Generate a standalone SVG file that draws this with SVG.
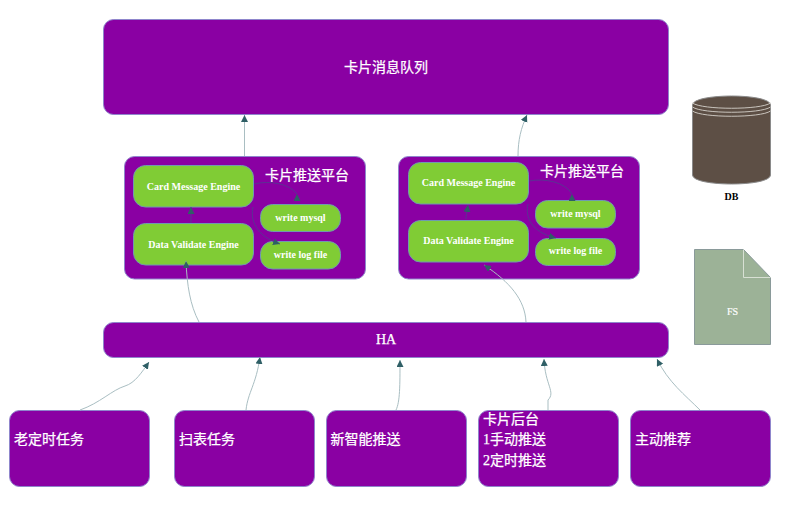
<svg xmlns="http://www.w3.org/2000/svg" width="801" height="510" viewBox="0 0 801 510">
<defs>
<marker id="arr" markerUnits="userSpaceOnUse" markerWidth="8" markerHeight="8" refX="7" refY="3.500" orient="auto"><path d="M0,0L7,3.500L0,7Z" fill="#2f5f66"/></marker>
<marker id="up" markerUnits="userSpaceOnUse" markerWidth="8" markerHeight="8" refX="7" refY="3.500" orient="270"><path d="M0,0L7,3.500L0,7Z" fill="#2f5f66"/></marker>
</defs>
<style>
.p{fill:#8a00a3;stroke:#8f86cc;stroke-width:1}
.g{fill:#80cc35;stroke:#6f9ab0;stroke-width:1}
.c{fill:none;stroke:#a9bec2;stroke-width:1;marker-end:url(#arr)}
.d{fill:none;stroke:#4f3f8f;stroke-width:.8;marker-end:url(#arr)}
.u{marker-end:url(#up)}
text{fill:#fff;font-family:"Liberation Serif","Noto Sans CJK SC",serif}
.e{font-size:10px;font-weight:bold;text-anchor:middle}
.t{font-size:14px;stroke:#fff;stroke-width:.25}
.m{text-anchor:middle}
</style>
<rect width="801" height="510" fill="#fff"/>
<g id="queue"><rect class="p" x="103.500" y="19.500" width="565" height="95" rx="10"/><text class="t m" x="386" y="72">卡片消息队列</text></g>
<g id="platform1"><rect class="p" x="124.500" y="156.500" width="241" height="122.500" rx="10"/><text class="t" x="265" y="180">卡片推送平台</text></g>
<g id="platform2"><rect class="p" x="398.500" y="156.500" width="241" height="122.500" rx="10"/><text class="t" x="540" y="176">卡片推送平台</text></g>
<g id="cme1"><rect class="g" x="133.500" y="165.500" width="120" height="41.500" rx="12"/><text class="e" x="193.500" y="189.500">Card Message Engine</text></g>
<g id="dve1"><rect class="g" x="133.500" y="223.500" width="120" height="41.500" rx="12"/><text class="e" x="193.500" y="247.500">Data Validate Engine</text></g>
<g id="mysql1"><rect class="g" x="260.500" y="204.500" width="80" height="27" rx="12"/><text class="e" x="300.500" y="221">write mysql</text></g>
<g id="log1"><rect class="g" x="260.500" y="241.500" width="80" height="27.500" rx="12"/><text class="e" x="300.500" y="258">write log file</text></g>
<g id="cme2"><rect class="g" x="408.500" y="162.500" width="120" height="41.500" rx="12"/><text class="e" x="468.500" y="186">Card Message Engine</text></g>
<g id="dve2"><rect class="g" x="408.500" y="220.500" width="120" height="41.500" rx="12"/><text class="e" x="468.500" y="244">Data Validate Engine</text></g>
<g id="mysql2"><rect class="g" x="535.500" y="200.500" width="80" height="27.500" rx="12"/><text class="e" x="575.500" y="217">write mysql</text></g>
<g id="log2"><rect class="g" x="535.500" y="238.500" width="80" height="27" rx="12"/><text class="e" x="575.500" y="254">write log file</text></g>
<g id="ha"><rect class="p" x="103.500" y="322.500" width="565" height="35" rx="10"/><text class="t m" x="386" y="344">HA</text></g>
<g id="s1"><rect class="p" x="9.500" y="410.500" width="140" height="76" rx="10"/><text class="t" x="14" y="444">老定时任务</text></g>
<g id="s2"><rect class="p" x="174.500" y="410.500" width="140" height="76" rx="10"/><text class="t" x="179" y="444">扫表任务</text></g>
<g id="s3"><rect class="p" x="326.500" y="410.500" width="140" height="76" rx="10"/><text class="t" x="330.500" y="444">新智能推送</text></g>
<g id="s4"><rect class="p" x="478.500" y="410.500" width="140" height="76" rx="10"/><text class="t" x="483" y="424">卡片后台</text><text class="t" x="483" y="444">1手动推送</text><text class="t" x="483" y="465">2定时推送</text></g>
<g id="s5"><rect class="p" x="630.500" y="410.500" width="140" height="76" rx="10"/><text class="t" x="635" y="444">主动推荐</text></g>
<g id="db">
<path d="M692.500,105C692.500,93 770.500,93 770.500,105V175C770.500,187 692.500,187 692.500,175Z" fill="#5d4f45" stroke="#8a8a8a"/>
<path d="M692.500,103C702,110 761,110 770.500,103M692.500,107C702,114 761,114 770.500,107M692.500,111C702,118 761,118 770.500,111" fill="none" stroke="#c9c4bd"/>
<text x="731.500" y="200" font-size="10" font-weight="bold" text-anchor="middle" style="fill:#000">DB</text>
</g>
<g id="fs">
<path d="M694.500,249.500H743.500L770.500,277.500V344.500H694.500Z" fill="#9cb297" stroke="#8a9a9a"/>
<path d="M743.500,249.500V277.500H770.500" fill="none" stroke="#d8e0d4"/>
<text x="732.500" y="315" font-size="10" text-anchor="middle" stroke="#fff" stroke-width=".2">FS</text>
</g>
<g id="connectors">
<path class="c" d="M244.500,156V115"/>
<path class="c" d="M518,156C518,140 521,128 527,115"/>
<path class="d" d="M191,223V207"/>
<path class="d" d="M466,219C466,215 467,212 468,205"/>
<path class="d u" d="M254,184C270,180 290,184 297,194"/>
<path class="d" d="M253,207C250,220 256,236 280,244"/>
<path class="d u" d="M529,181C545,178 565,182 572,194"/>
<path class="d" d="M528,204C525,217 531,232 556,238"/>
<path class="c" d="M199,322C190,305 187,285 186,261"/>
<path class="c" d="M526,322C525,300 510,282 484,265"/>
<path class="c" d="M80,410C100,403 112,390 125,386C135,383 142,372 149,362"/>
<path class="c" d="M246,410C248,392 256,385 260,357"/>
<path class="c" d="M396,410C400,402 400,385 400,360"/>
<path class="c" d="M548,410V400C556,392 545,385 544,359"/>
<path class="c" d="M700,410C685,395 668,382 657,359"/>
</g>
</svg>
